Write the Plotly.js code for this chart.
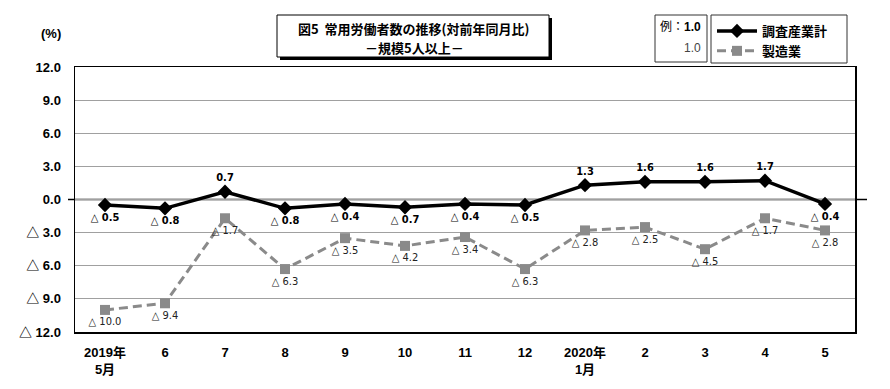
<!DOCTYPE html>
<html>
<head>
<meta charset="utf-8">
<script src="https://cdn.plot.ly/plotly-3.0.1.min.js"></script>
<style>html,body{margin:0;padding:0;background:#fff;}#chart{width:890px;height:389px;}</style>
</head>
<body>
<div id="chart"></div>
<script>
// ---- data ----
const months = ["2019年<br>5月", "6", "7", "8", "9", "10", "11", "12", "2020年<br>1月", "2", "3", "4", "5"];
const totalIndustry = [-0.5, -0.8, 0.7, -0.8, -0.4, -0.7, -0.4, -0.5, 1.3, 1.6, 1.6, 1.7, -0.4];
const manufacturing = [-10.0, -9.4, -1.7, -6.3, -3.5, -4.2, -3.4, -6.3, -2.8, -2.5, -4.5, -1.7, -2.8];
const seriesNames = ["調査産業計", "製造業"];
const yTickValues = [12, 9, 6, 3, 0, -3, -6, -9, -12];

// ---- helpers ----
function fmt(v) { return v < 0 ? "△ " + Math.abs(v).toFixed(1) : v.toFixed(1); }
const L = 75, R = 855, T = 67, B = 332;
const px = x => (x - L) / (R - L);
const py = y => (B - y) / (B - T);
const jpFont = "Liberation Sans, 'Noto Sans CJK JP', sans-serif";
const narrow = "'Liberation Sans Narrow', 'DejaVu Sans Condensed', 'Noto Sans CJK JP', sans-serif";

const traces = [
  {
    x: months, y: totalIndustry, name: seriesNames[0], type: "scatter", mode: "lines+markers+text",
    line: { color: "#000", width: 3.5 },
    marker: { symbol: "diamond", size: 11, color: "#000" },
    text: totalIndustry.map(fmt),
    textposition: totalIndustry.map(v => v < 0 ? "bottom center" : "top center"),
    textfont: { family: narrow, size: 11, color: "#000", weight: "bold" },
    cliponaxis: false
  },
  {
    x: months, y: manufacturing, name: seriesNames[1], type: "scatter", mode: "lines+markers+text",
    line: { color: "#8a8a8a", width: 3, dash: "9px,5px" },
    marker: { symbol: "square", size: 10, color: "#8a8a8a" },
    text: manufacturing.map(fmt),
    textposition: "bottom center",
    textfont: { family: narrow, size: 11, color: "#222" },
    cliponaxis: false
  }
];

const layout = {
  width: 890, height: 389,
  margin: { l: L, r: 890 - R, t: T, b: 389 - B, pad: 0 },
  paper_bgcolor: "#fff", plot_bgcolor: "#fff",
  showlegend: true,
  legend: {
    x: px(712), y: py(16), xanchor: "left", yanchor: "top",
    bgcolor: "rgba(0,0,0,0)", borderwidth: 0,
    font: { family: jpFont, size: 13, color: "#000", weight: "bold" },
    tracegroupgap: 0, itemwidth: 40
  },
  xaxis: {
    type: "category", range: [-0.5, 12.5],
    showgrid: false, zeroline: false,
    showline: true, linecolor: "#000", linewidth: 1.5, mirror: true,
    ticks: "", ticklabelstandoff: 8,
    tickfont: { family: jpFont, size: 13, color: "#000", weight: "bold" },
    fixedrange: true
  },
  yaxis: {
    range: [-12, 12], tickvals: yTickValues, ticktext: yTickValues.map(v => v < 0 ? "△ " + Math.abs(v).toFixed(1) : v.toFixed(1)),
    showgrid: true, gridcolor: "#a0a0a0", gridwidth: 1,
    zeroline: false,
    showline: true, linecolor: "#000", linewidth: 1.5, mirror: true,
    ticks: "", ticklabelstandoff: 10,
    tickfont: { family: jpFont, size: 13, color: "#000", weight: "bold" },
    fixedrange: true
  },
  shapes: [
    // zero line extending beyond plot
    { type: "line", xref: "paper", yref: "paper", x0: px(68), x1: px(867), y0: 0.5, y1: 0.5, line: { color: "#000", width: 1.5 }, layer: "below" },
    // title box shadow
    { type: "rect", xref: "paper", yref: "paper", x0: px(280), x1: px(552), y0: py(18), y1: py(60), fillcolor: "#000", line: { width: 0 } },
    // title box
    { type: "rect", xref: "paper", yref: "paper", x0: px(277), x1: px(549), y0: py(15), y1: py(57), fillcolor: "#fff", line: { color: "#000", width: 1 } },
    // example box
    { type: "rect", xref: "paper", yref: "paper", x0: px(655), x1: px(707), y0: py(15), y1: py(62), fillcolor: "rgba(0,0,0,0)", line: { color: "#333", width: 1 } },
    // legend box
    { type: "rect", xref: "paper", yref: "paper", x0: px(711), x1: px(847), y0: py(15), y1: py(63), fillcolor: "rgba(0,0,0,0)", line: { color: "#333", width: 1 } }
  ],
  annotations: [
    { xref: "paper", yref: "paper", x: px(413), y: py(28), text: "図5  常用労働者数の推移(対前年同月比)", showarrow: false, xanchor: "center", yanchor: "middle",
      font: { family: "'Noto Sans CJK JP', sans-serif", size: 13, color: "#000", weight: "bold" } },
    { xref: "paper", yref: "paper", x: px(414), y: py(47), text: "－規模5人以上－", showarrow: false, xanchor: "center", yanchor: "middle",
      font: { family: "'Noto Sans CJK JP', sans-serif", size: 13, color: "#000", weight: "bold" } },
    { xref: "paper", yref: "paper", x: px(703), y: py(27), text: "例：<b>1.0</b>", showarrow: false, xanchor: "right", yanchor: "middle",
      font: { family: jpFont, size: 12, color: "#000" } },
    { xref: "paper", yref: "paper", x: px(703), y: py(48), text: "1.0", showarrow: false, xanchor: "right", yanchor: "middle",
      font: { family: jpFont, size: 12, color: "#444" } },
    { xref: "paper", yref: "paper", x: px(51), y: py(33), text: "(%)", showarrow: false, xanchor: "center", yanchor: "middle",
      font: { family: jpFont, size: 13, color: "#000", weight: "bold" } }
  ]
};

Plotly.newPlot("chart", traces, layout, { displayModeBar: false, staticPlot: true });
</script>
</body>
</html>
